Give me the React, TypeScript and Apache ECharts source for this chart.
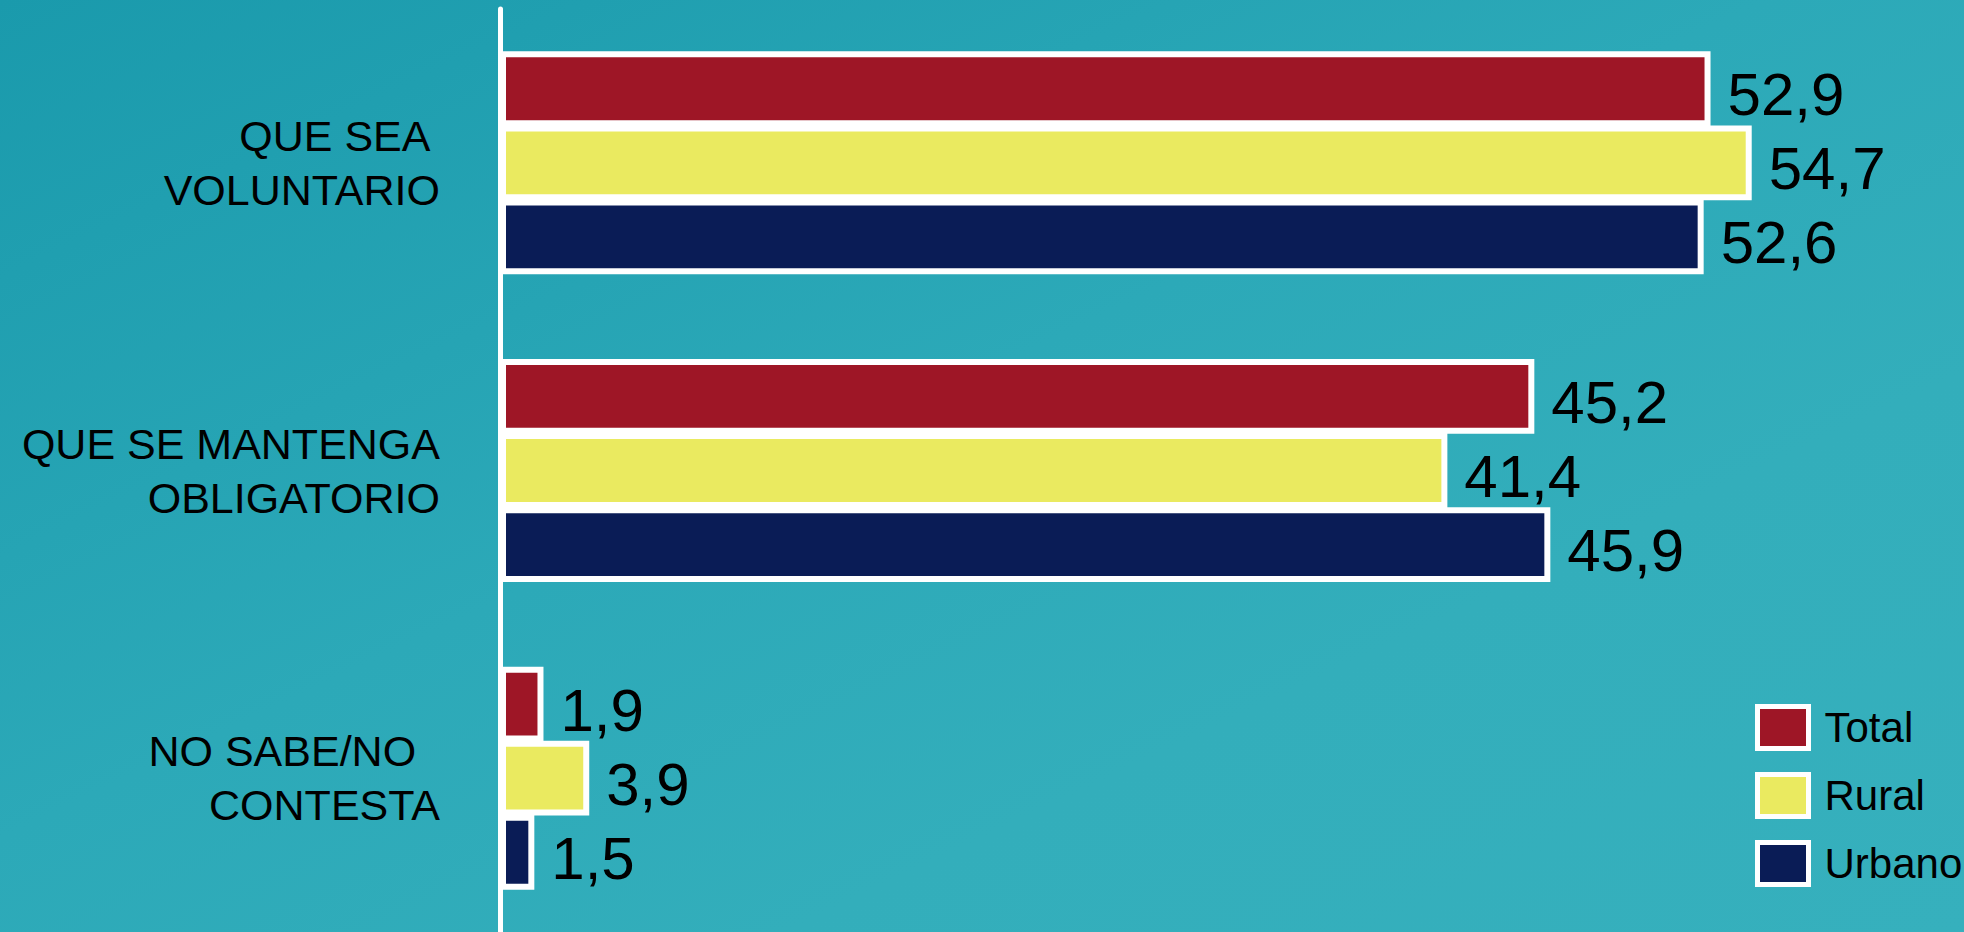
import React, { useEffect, useRef } from "react";
import * as echarts from "echarts";

const categories = ["QUE SEA \nVOLUNTARIO", "QUE SE MANTENGA\nOBLIGATORIO", "NO SABE/NO  \nCONTESTA"];
const seriesNames = ["Total", "Rural", "Urbano"];
const totalValues = [52.9, 45.2, 1.9];
const ruralValues = [54.7, 41.4, 3.9];
const urbanoValues = [52.6, 45.9, 1.5];
const seriesColors = ["#9E1626", "#EAEA60", "#0A1C56"];

const FONT = "'Liberation Sans', Arial, sans-serif";

export default function App() {
  const ref = useRef<HTMLDivElement>(null);

  useEffect(() => {
    if (!ref.current) return;
    const chart = echarts.init(ref.current, undefined, { renderer: "svg" });
    const values = [totalValues, ruralValues, urbanoValues];
    chart.setOption({
      animation: false,
      backgroundColor: "transparent",
      grid: { left: 500, right: 91, top: 9, height: 932, containLabel: false },
      xAxis: {
        type: "value",
        min: 0,
        max: 60,
        show: false,
        splitLine: { show: false },
      },
      yAxis: {
        type: "category",
        data: categories,
        inverse: true,
        axisLine: { show: true, lineStyle: { color: "#ffffff", width: 5 } },
        axisTick: { show: false },
        axisLabel: {
          margin: 60,
          color: "#000000",
          fontFamily: FONT,
          fontSize: 43,
          lineHeight: 54,
          align: "right",
          padding: [6, 0, 0, 0],
        },
      },
      legend: {
        orient: "vertical",
        left: 1755,
        top: 704,
        padding: 0,
        itemWidth: 51,
        itemHeight: 42,
        itemGap: 21,
        icon: "rect",
        itemStyle: { borderColor: "#ffffff", borderWidth: 5 },
        textStyle: {
          color: "#000000",
          fontFamily: FONT,
          fontSize: 42,
          padding: [10, 0, 0, 11],
        },
        data: seriesNames,
      },
      series: seriesNames.map((name, i) => ({
        name,
        type: "bar",
        data: values[i],
        barGap: "-1%",
        barCategoryGap: "27.5%",
        itemStyle: { color: seriesColors[i], borderColor: "#ffffff", borderWidth: 6 },
        label: {
          show: true,
          position: "right",
          distance: 17,
          offset: [0, 6],
          color: "#000000",
          fontFamily: FONT,
          fontSize: 60,
          formatter: (p: any) => Number(p.value).toFixed(1).replace(".", ","),
        },
      })),
    });
    return () => chart.dispose();
  }, []);

  return (
    <div
      style={{
        position: "fixed",
        left: 0,
        top: 0,
        width: 1964,
        height: 932,
        background: "linear-gradient(to bottom right, #1A9AAC 0%, #2CA9B8 45%, #33AEBB 70%, #36B0BD 100%)",
      }}
    >
      <div ref={ref} style={{ width: 1964, height: 932 }} />
    </div>
  );
}
